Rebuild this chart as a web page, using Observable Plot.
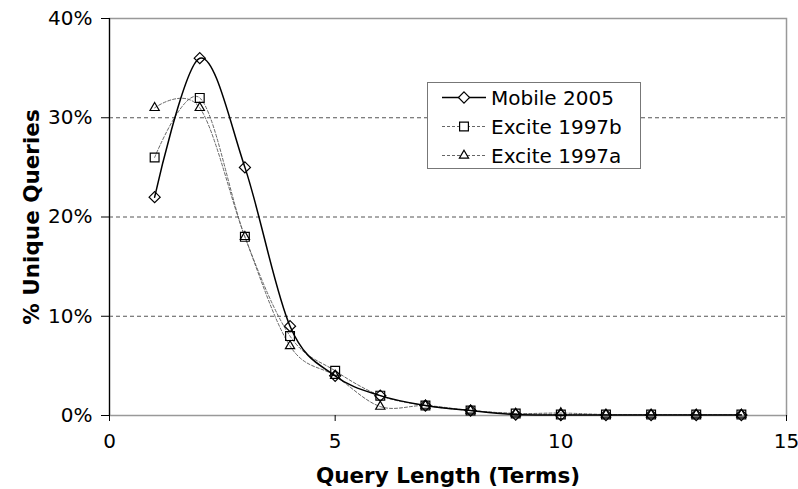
<!DOCTYPE html>
<html>
<head>
<meta charset="utf-8">
<script src="https://cdn.jsdelivr.net/npm/d3@7"></script>
<script src="https://cdn.jsdelivr.net/npm/@observablehq/plot@0.6"></script>
<style>
  html, body { margin: 0; padding: 0; background: #fff; }
  #wrap { position: relative; width: 798px; height: 489px; font-family: "DejaVu Sans", Verdana, sans-serif; }
  #legend { position: absolute; left: 427px; top: 82px; width: 212px; height: 85px; border: 1px solid #777; background: #fff; box-sizing: content-box; }
  .row { position: absolute; left: 14px; height: 29px; display: flex; align-items: center; font-size: 20px; color: #000; }
  .row svg { margin-right: 5px; }
</style>
</head>
<body>
<div id="wrap"></div>
<script>
const queryLength = [1, 2, 3, 4, 5, 6, 7, 8, 9, 10, 11, 12, 13, 14];
const mobile2005  = [22, 36, 25, 9, 4, 2, 1, 0.5, 0.1, 0.05, 0.05, 0.05, 0.05, 0.05];
const excite1997b = [26, 32, 18, 8, 4.5, 2, 1, 0.5, 0.2, 0.1, 0.1, 0.1, 0.1, 0.1];
const excite1997a = [31, 31, 18, 7, 4, 0.9, 1, 0.5, 0.2, 0.25, 0.1, 0.1, 0.1, 0.1];
const seriesNames = ["Mobile 2005", "Excite 1997b", "Excite 1997a"];
const xTicks = [0, 5, 10, 15];
const yTicks = [0, 10, 20, 30, 40];
const gridTicks = [10, 20, 30];

const series = [
  {name: seriesNames[0], values: mobile2005, symbol: "diamond2", r: 5, stroke: "#000", width: 1.5, dash: null},
  {name: seriesNames[1], values: excite1997b, symbol: "square2", r: 5.6, stroke: "#666", width: 1, dash: "3,2"},
  {name: seriesNames[2], values: excite1997a, symbol: "triangle2", r: 4.4, stroke: "#666", width: 1, dash: "3,2"}
];
const rows = s => queryLength.map((x, i) => ({x, y: s.values[i], name: s.name}));

const font = "DejaVu Sans, Verdana, sans-serif";
const marks = [
  Plot.ruleY(gridTicks, {stroke: "#555", strokeDasharray: "4,3", strokeWidth: 1}),
  Plot.frame({stroke: "#999", strokeWidth: 1.5}),
  Plot.ruleX([0], {stroke: "#000", strokeWidth: 1.2}),
  Plot.axisX({ticks: xTicks, tickSize: 6, tickPadding: 12, fontSize: 20, label: null, stroke: "#000"}),
  Plot.axisY({ticks: yTicks, tickSize: 8, tickPadding: 9, fontSize: 20, label: null, tickFormat: d => d + "%", stroke: "#000"}),
  Plot.text(["% Unique Queries"], {frameAnchor: "left", dx: -77, rotate: -90, textAnchor: "middle", lineAnchor: "middle", fontSize: 21.5, fontWeight: "bold"}),
  Plot.text(["Query Length (Terms)"], {frameAnchor: "bottom", dy: 61, textAnchor: "middle", lineAnchor: "middle", fontSize: 21.5, fontWeight: "bold"})
];
for (const s of series.slice().reverse()) {
  marks.push(Plot.line(rows(s), {x: "x", y: "y", curve: "cardinal", tension: 0, stroke: s.stroke, strokeWidth: s.width, strokeDasharray: s.dash}));
}
for (const s of series.slice().reverse()) {
  marks.push(Plot.dot(rows(s), {x: "x", y: "y", symbol: () => s.symbol, r: s.r, stroke: "#000", strokeWidth: 1.2, fill: "none"}));
}

const chart = Plot.plot({
  width: 798,
  height: 489,
  marginLeft: 109,
  marginRight: 12,
  marginTop: 18,
  marginBottom: 74,
  style: {fontFamily: font, fontSize: "20px", color: "#000", background: "#fff"},
  x: {domain: [0, 15]},
  y: {domain: [0, 40]},
  symbol: {type: "identity"},
  marks
});
const wrap = document.getElementById("wrap");
wrap.appendChild(chart);

// legend
const legend = document.createElement("div");
legend.id = "legend";
const symMap = {"diamond2": d3.symbolDiamond2, "square2": d3.symbolSquare2, "triangle2": d3.symbolTriangle2};
series.forEach((s, i) => {
  const row = document.createElement("div");
  row.className = "row";
  row.style.top = (i * 29) + "px";
  const svg = d3.create("svg").attr("width", 44).attr("height", 29);
  svg.append("line").attr("x1", 0).attr("x2", 44).attr("y1", 14.5).attr("y2", 14.5)
    .attr("stroke", s.stroke).attr("stroke-width", s.width).attr("stroke-dasharray", s.dash);
  svg.append("path").attr("transform", "translate(22,14.5)")
    .attr("d", d3.symbol(symMap[s.symbol], Math.PI * s.r * s.r)())
    .attr("fill", "#fff").attr("stroke", "#000").attr("stroke-width", 1.2);
  row.appendChild(svg.node());
  const t = document.createElement("span");
  t.textContent = s.name;
  row.appendChild(t);
  legend.appendChild(row);
});
wrap.appendChild(legend);
</script>
</body>
</html>
